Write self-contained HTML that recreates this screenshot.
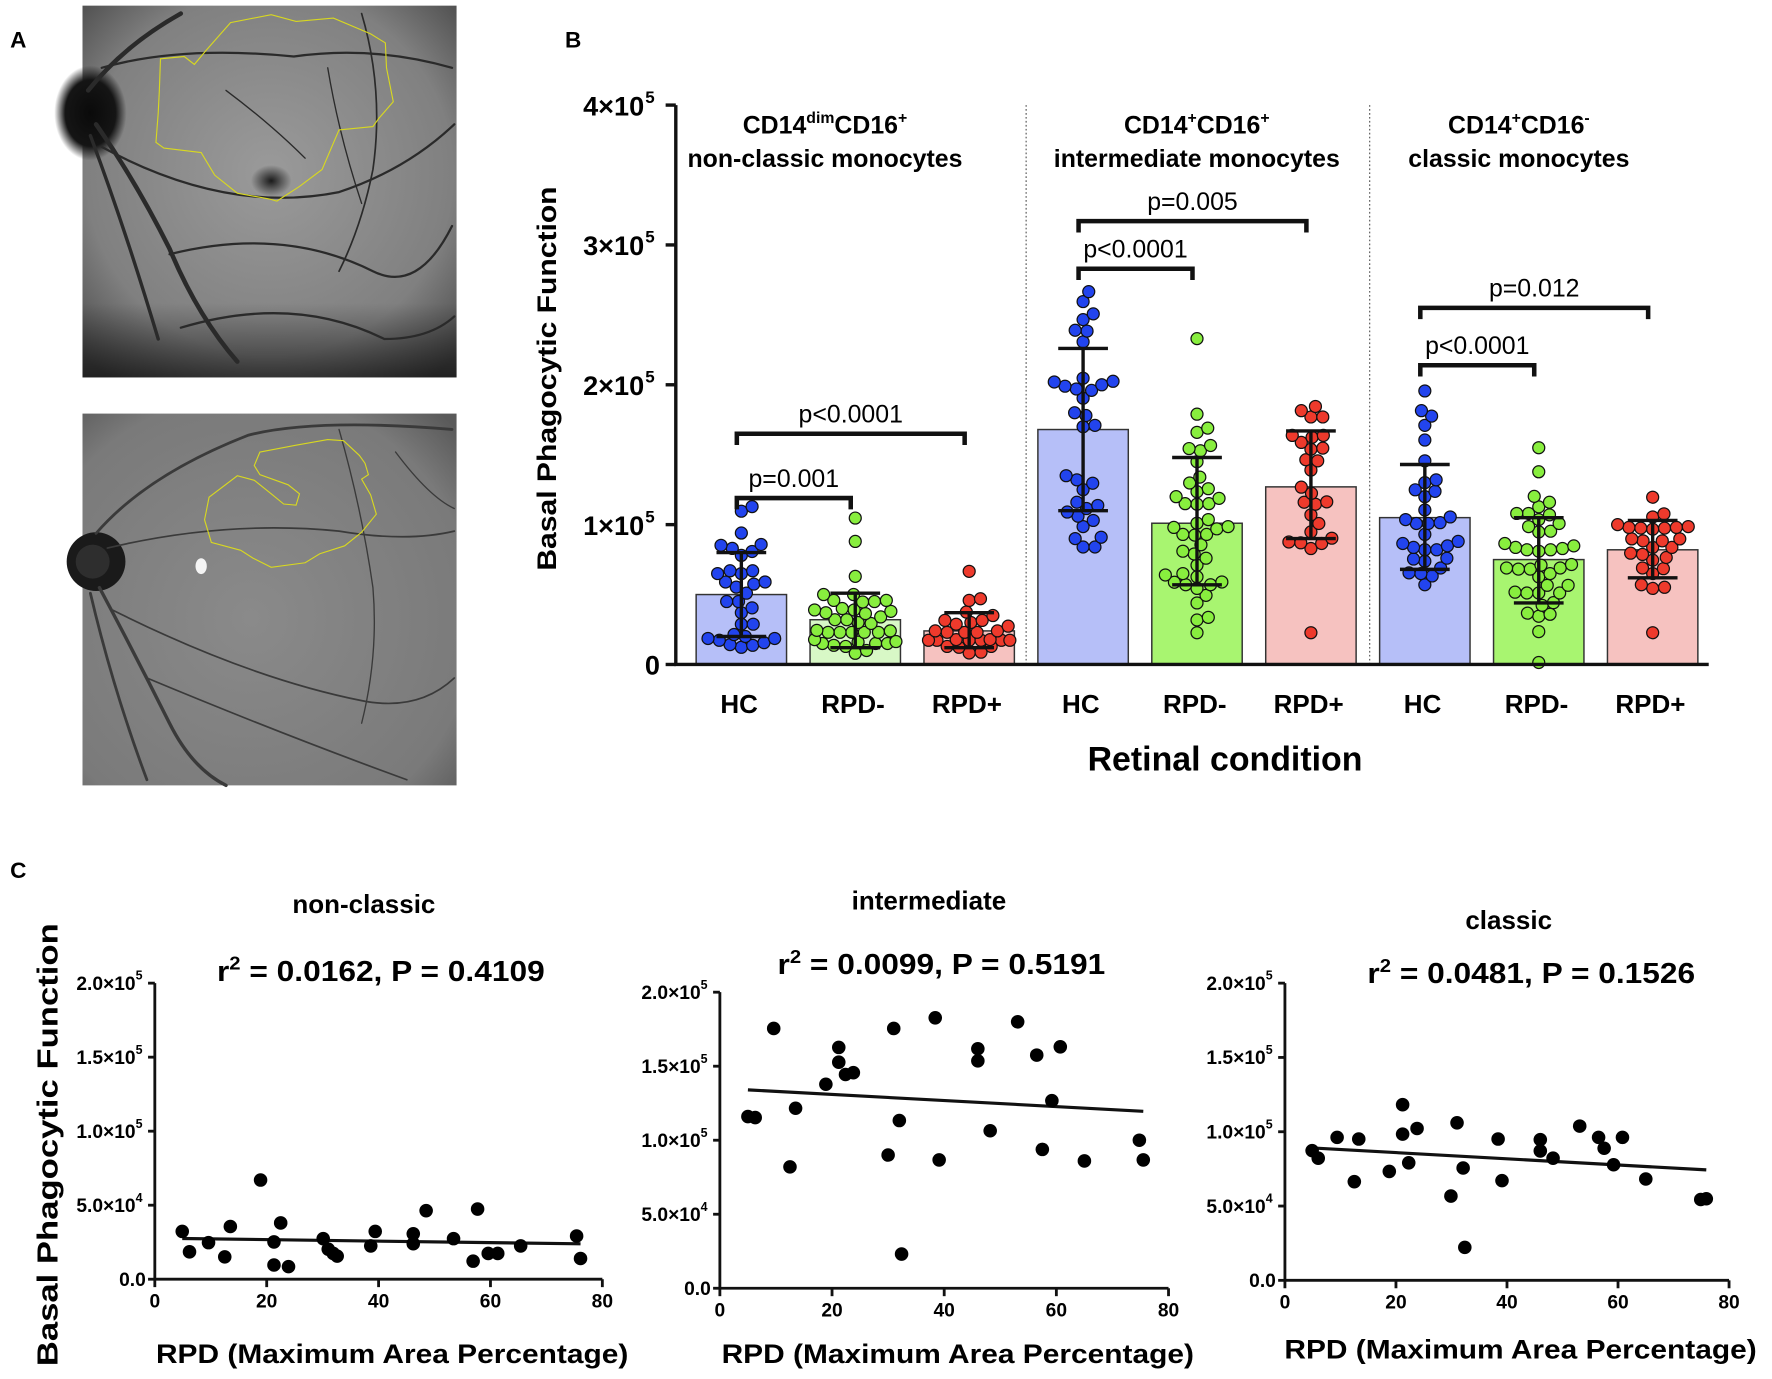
<!DOCTYPE html>
<html><head><meta charset="utf-8">
<style>
html,body{margin:0;padding:0;background:#fff;}
svg{display:block;}
text{font-family:"Liberation Sans",sans-serif;}
</style></head>
<body>
<svg id="fig" width="1772" height="1379" viewBox="0 0 1568 1220.3" preserveAspectRatio="none" xmlns="http://www.w3.org/2000/svg">
<defs>
<radialGradient id="fg1" cx="0.5" cy="0.45" r="0.7"><stop offset="0" stop-color="#9a9a9a"/><stop offset="0.7" stop-color="#808080"/><stop offset="1" stop-color="#4a4a4a"/></radialGradient>
<linearGradient id="fgb" x1="0" y1="0" x2="0" y2="1"><stop offset="0.8" stop-color="#000" stop-opacity="0"/><stop offset="1" stop-color="#000" stop-opacity="0.55"/></linearGradient>
<radialGradient id="fg2" cx="0.45" cy="0.55" r="0.75"><stop offset="0" stop-color="#8a8a8a"/><stop offset="0.8" stop-color="#7a7a7a"/><stop offset="1" stop-color="#5a5a5a"/></radialGradient>
<radialGradient id="disc" cx="0.5" cy="0.5" r="0.5"><stop offset="0" stop-color="#0a0a0a"/><stop offset="0.7" stop-color="#151515"/><stop offset="1" stop-color="#151515" stop-opacity="0"/></radialGradient>
<radialGradient id="fovea" cx="0.5" cy="0.5" r="0.5"><stop offset="0" stop-color="#1a1a1a"/><stop offset="1" stop-color="#1a1a1a" stop-opacity="0"/></radialGradient>
</defs>

<text x="9" y="42" font-size="20" font-weight="bold">A</text>
<text x="500" y="42" font-size="20" font-weight="bold">B</text>
<text x="9" y="777" font-size="20" font-weight="bold">C</text>

<g>
<rect x="73" y="5" width="331" height="329" fill="url(#fg1)"/>
<rect x="73" y="5" width="331" height="329" fill="url(#fgb)"/>
<ellipse cx="80" cy="100" rx="32" ry="42" fill="url(#disc)"/>
<ellipse cx="240" cy="160" rx="18" ry="14" fill="url(#fovea)"/>
<g fill="none" stroke="#2a2a2a" stroke-linecap="round">
<path d="M78,80 Q110,40 160,12" stroke-width="4"/>
<path d="M85,110 Q120,160 150,220 Q175,280 210,320" stroke-width="4"/>
<path d="M80,120 Q110,200 140,300" stroke-width="3"/>
<path d="M90,60 Q160,40 260,50 Q330,40 400,60" stroke-width="2"/>
<path d="M90,130 Q200,190 300,170 Q360,150 402,110" stroke-width="2"/>
<path d="M150,225 Q250,200 330,240 Q370,260 400,200" stroke-width="2"/>
<path d="M160,290 Q260,260 340,300 Q380,300 402,280" stroke-width="2"/>
<path d="M320,12 Q340,80 330,150 Q320,200 300,240" stroke-width="1.5"/>
<path d="M200,80 Q240,110 270,140" stroke-width="1.2"/>
<path d="M290,60 Q300,120 320,180" stroke-width="1.2"/>
</g>
<polygon points="142,52 163,50 172,57 182,45 204,20 240,13 262,19 295,16 328,30 341,38 342,60 348,90 335,105 330,112 300,115 285,150 265,165 245,178 238,176 210,171 190,155 178,135 145,131 138,126 140,100 141,80" fill="none" stroke="#d8d820" stroke-width="1"/>
</g>

<g>
<rect x="73" y="366" width="331" height="329" fill="url(#fg2)"/>
<circle cx="85" cy="497" r="26" fill="#1a1a1a"/>
<circle cx="82" cy="497" r="15" fill="#2e2e2e"/>
<ellipse cx="178" cy="501" rx="5" ry="7" fill="#f4f4f4"/>
<g fill="none" stroke="#3a3a3a" stroke-linecap="round">
<path d="M85,472 Q130,420 220,385 Q280,370 400,380" stroke-width="2.5"/>
<path d="M88,520 Q120,580 150,640 Q170,680 200,695" stroke-width="3"/>
<path d="M80,525 Q100,610 130,690" stroke-width="2.5"/>
<path d="M95,485 Q200,460 300,470 Q360,480 402,470" stroke-width="1.5"/>
<path d="M100,540 Q220,600 320,620 Q370,630 402,600" stroke-width="1.5"/>
<path d="M130,600 Q250,650 360,690" stroke-width="1.5"/>
<path d="M300,380 Q320,450 330,520 Q335,580 320,640" stroke-width="1.2"/>
<path d="M350,400 Q380,440 402,450" stroke-width="1.2"/>
</g>
<polygon points="230,400 262,394 290,389 304,390 318,403 323,410 326,420 320,424 328,438 333,455 320,471 305,483 283,490 270,498 240,502 224,494 213,487 187,480 181,460 185,440 210,421 225,425 240,437 251,446 262,447 265,437 255,429 230,420 225,412" fill="none" stroke="#d8d820" stroke-width="1"/>
</g>

<g id="panelB"></g>
<g id="panelC"></g>
</svg>

<script>
// ===== Panel B data =====
const bCategories = ['HC','RPD-','RPD+','HC','RPD-','RPD+','HC','RPD-','RPD+'];
const bMeans = [50, 32, 24, 168, 101, 127, 105, 75, 82];
const bSdLow = [20, 12, 12, 110, 57, 90, 68, 44, 62];
const bSdHigh = [80, 51, 37, 226, 148, 167, 143, 105, 103];
const bYTicks = [0, 100, 200, 300, 400];
const bYTickLabels = ['0', '1×10', '2×10', '3×10', '4×10'];
const g1 = [112.9,109.6,94,85.2,80.8,83,85.8,78,67,65,65,67,57.5,55.3,59,59,45,51,45,37,40.5,28.8,28.8,21.4,18.6,18.6,20,17.3,14.2,12.3,13.7,15.6];
const g2 = [104.7,88,63,50,45.8,44.7,45,45.8,50,39,36.4,38,40,37,39,32,29.3,32,30,34,23,23,23,23,24,24.4,23,16,15,13.7,12.9,15,15,16.4,17.8,8,10];
const g3 = [66.6,47,45.8,37.5,35,31.5,30,31.5,27.4,24,23,23,23,24,28.8,17.3,17.3,17.3,17.3,17.3,17.8,17.3,17.8,12.3,12.9,12.9,8.2,8.8];
const g4 = [266.6,259.5,246.6,250.7,238.4,239,230.7,204.7,202,199,196,197,200,202.5,190.4,180,178,170,171,135,132,129.6,125,116,111.5,109,106,113.7,103,98.6,91,90,84,84];
const g5 = [233,179,169,166,156.6,152.8,154.4,145,134,125.7,129.8,123.5,115,115,114.6,118.8,103.6,98,98.6,93,92.5,93,85.6,81,79,76,71,65,62.7,57,57,58.8,54.4,49.4,44,31.8,33.7,22.7,120,101,97,64,59];
const g6 = [181.5,177,177,184.5,163.8,163.8,162.4,158.8,153.9,154.7,145.6,146.4,139,126.8,122.4,116.3,114.6,116,107,100.8,94.8,87.6,86.5,82.9,87,90.3,22.7];
const g7 = [195.6,181.5,177.6,171,160.5,145.6,130,132,123.8,124.9,120,110.5,105.5,103.6,101.4,100.8,93,100.8,88,83.7,82,86.5,82,84.8,76,73.8,75.4,69,65,57,63.3,65.5];
const g8 = [155,137.8,120.2,112.7,116,108,103.6,107,108,100.8,95.3,94.8,98.6,83.7,82,84.8,81,82,82.9,86.5,71,69,68.2,65,68.2,69,71.5,62.7,56.6,51.7,51.1,51.1,51.1,56.6,44.2,42.3,36.7,34.5,35.9,23.5,1.4];
const g9 = [119.6,105.5,107.7,98,97.5,97.5,98.6,96.7,98,100,88.4,83.7,89.8,89.8,83.7,88.4,76.5,79.6,78.7,74.6,69,65,68.5,55.2,54.4,57,22.7];
const bGroupValues = [g1,g2,g3,g4,g5,g6,g7,g8,g9];
const bPLabels = ['p=0.001','p<0.0001','p<0.0001','p=0.005','p<0.0001','p=0.012'];
const bPFrom = [0,0,3,3,6,6];
const bPTo = [1,2,4,5,7,8];
const bPLevel = [119,165,283,317,214,255];

// ===== Panel C data =====
const cX1 = [4.9,6.2,9.6,12.5,13.5,18.9,21.3,21.3,22.5,23.9,30.1,31,31.9,32.6,38.6,39.4,46.2,46.2,48.5,53.4,56.9,57.7,59.6,61.3,65.4,75.4,76.1];
const cY1 = [32.3,18.5,24.7,15.1,35.6,67,25.2,9.6,38,8.5,27.4,20.3,17.4,15.6,22.5,32.3,30.7,24,46.3,27.4,12.2,47.4,17.4,17.4,22.5,29.2,14];
const cX2 = [5.0,6.3,9.6,12.5,13.5,18.9,21.2,21.2,22.4,23.8,30,31,32,32.4,38.4,39.1,46,46,48.2,53.1,56.5,57.5,59.2,60.7,65,74.8,75.5];
const cY2 = [116,115.3,175.5,82,121.6,137.8,162.7,152.7,144.4,145.6,90,175.5,113.3,23.1,182.7,86.7,161.8,153.6,106.4,180,157.5,93.8,126.7,163.1,86,100,86.7];
const cX3 = [4.9,6,9.4,12.5,13.3,18.8,21.2,21.2,22.3,23.8,29.9,31,32.1,32.4,38.4,39.1,46,46,48.3,53.1,56.5,57.5,59.2,60.8,65,74.9,75.9];
const cY3 = [87.3,82.2,96.2,66.4,95.1,73.3,118.2,98.4,79.1,102.2,56.7,106,75.6,22.2,95.1,67.1,94.7,87.1,82.2,103.8,96.2,88.9,77.8,96.2,68.2,54.4,54.9];
const cXTicks = [0,20,40,60,80];
const cYTicks = [0,50,100,150,200];
const cYTickMain = ['0.0','5.0×10','1.0×10','1.5×10','2.0×10'];
const cYTickExp = ['','4','5','5','5'];
const cTitles = ['non-classic','intermediate','classic'];
const cStats = ['0.0162, P = 0.4109','0.0099, P = 0.5191','0.0481, P = 0.1526'];

const NS = 'http://www.w3.org/2000/svg';
function mk(parent, tag, attrs, text) {
  const e = document.createElementNS(NS, tag);
  for (const k in attrs) e.setAttribute(k, attrs[k]);
  if (text !== undefined) e.textContent = text;
  parent.appendChild(e);
  return e;
}

(function(){
  const P = document.getElementById('panelB');
  const axX = 598, y0 = 588, pxPerK = 1.2375;
  const yB = v => y0 - v * pxPerK;
  const xB = i => 656 + i * 100.8;
  const barW = 80;
  const dotCols = ['#2244ee','#88ee3e','#ee3a2c'];
  const barCols = ['#b6bff8','#d8f8c6','#f6c2c0','#b6bff8','#a8f570','#f6c2c0','#b6bff8','#a8f570','#f6c2c0'];

  [908, 1212].forEach(dx => {
    const l = mk(P, 'line', {x1:dx, y1:93, x2:dx, y2:588, stroke:'#555', 'stroke-width':1, 'stroke-dasharray':'1.5 2'});
    
    
  });

  bMeans.forEach((m, i) => {
    const r = mk(P, 'rect', {x:xB(i)-barW/2, y:yB(m), width:barW, height:y0-yB(m), fill:barCols[i], stroke:'#333', 'stroke-width':1.3});
    
    
  });

  const rad = 5.3, maxOff = 36;
  bGroupValues.forEach((vals, i) => {
    const cx = xB(i), col = dotCols[i % 3];
    const order = vals.map((v, j) => j).sort((a, b) => vals[a] - vals[b]);
    const placed = [];
    const g = mk(P, 'g', {});
    
    
    const minD = 2*rad - 0.5;
    order.forEach(j => {
      const py = yB(vals[j]);
      let best = 0, bestScore = Infinity;
      for (let s = 0; s <= maxOff; s += 0.5) {
        let done = false;
        for (const sg of (s === 0 ? [0] : [s, -s])) {
          let overlap = 0;
          placed.forEach(p => {
            const d = Math.hypot(p[0]-sg, p[1]-py);
            if (d < minD) overlap += (minD - d);
          });
          if (overlap === 0) { best = sg; bestScore = 0; done = true; break; }
          const score = overlap + Math.abs(sg)*0.02;
          if (score < bestScore) { bestScore = score; best = sg; }
        }
        if (done) break;
      }
      placed.push([best, py]);
      const c = mk(g, 'circle', {cx:cx+best, cy:py, r:rad, fill:col, stroke:'#111', 'stroke-width':1.1});
      
      
    });
  });

  bMeans.forEach((m, i) => {
    const g = mk(P, 'g', {stroke:'#111', 'stroke-width':3});
    
    
    mk(g, 'line', {x1:xB(i), y1:yB(bSdLow[i]), x2:xB(i), y2:yB(bSdHigh[i])});
    mk(g, 'line', {x1:xB(i)-22, y1:yB(bSdLow[i]), x2:xB(i)+22, y2:yB(bSdLow[i])});
    mk(g, 'line', {x1:xB(i)-22, y1:yB(bSdHigh[i]), x2:xB(i)+22, y2:yB(bSdHigh[i])});
  });

  const ax = mk(P, 'path', {d:`M${axX},${yB(400)} V${y0} H1512`, fill:'none', stroke:'#111', 'stroke-width':3});
  
  
  bYTicks.forEach((t, k) => {
    mk(P, 'line', {x1:axX-9, y1:yB(t), x2:axX, y2:yB(t), stroke:'#111', 'stroke-width':3});
    const tx = mk(P, 'text', {x: k===0 ? axX-14 : axX-28, y:yB(t)+9, 'font-size':24, 'font-weight':'bold', 'text-anchor':'end'}, bYTickLabels[k]);
    
    
    if (k > 0) {
      const ex = mk(P, 'text', {x:axX-27, y:yB(t)-2, 'font-size':15, 'font-weight':'bold'}, '5');
      
      
    }
  });
  bCategories.forEach((c, i) => {
    const tx = mk(P, 'text', {x:xB(i)-2, y:631, 'font-size':23, 'font-weight':'bold', 'text-anchor':'middle'}, c);
    
    
  });
  const xt = mk(P, 'text', {x:1084, y:682, 'font-size':30, 'font-weight':'bold', 'text-anchor':'middle'}, 'Retinal condition');
  
  
  const yt = mk(P, 'text', {x:0, y:0, 'font-size':24, 'font-weight':'bold', 'text-anchor':'middle', textLength:340, lengthAdjust:'spacingAndGlyphs', transform:'translate(492,335) rotate(-90)'}, 'Basal Phagocytic Function');
  
  

  const titles = [
    [730, ['CD14','dim','CD16','+'], 'non-classic monocytes'],
    [1059, ['CD14','+','CD16','+'], 'intermediate monocytes'],
    [1344, ['CD14','+','CD16','-'], 'classic monocytes']
  ];
  titles.forEach(t => {
    const a = mk(P, 'text', {x:t[0], y:118, 'font-size':22, 'font-weight':'bold', 'text-anchor':'middle'});
    
    
    mk(a, 'tspan', {}, t[1][0]);
    mk(a, 'tspan', {'font-size':14, dy:-9}, t[1][1]);
    mk(a, 'tspan', {dy:9}, t[1][2]);
    mk(a, 'tspan', {'font-size':14, dy:-9}, t[1][3]);
    const b = mk(P, 'text', {x:t[0], y:148, 'font-size':22, 'font-weight':'bold', 'text-anchor':'middle'}, t[2]);
    
    
  });

  bPLabels.forEach((lab, k) => {
    const x1 = xB(bPFrom[k]) - 4, x2 = xB(bPTo[k]) - 4, yy = yB(bPLevel[k]);
    const g = mk(P, 'g', {});
    
    
    mk(g, 'path', {d:`M${x1},${yy+10} V${yy} H${x2} V${yy+10}`, fill:'none', stroke:'#111', 'stroke-width':4});
    mk(g, 'text', {x:(x1+x2)/2, y:yy-10, 'font-size':22, 'text-anchor':'middle'}, lab);
  });
})();

(function(){
  const P = document.getElementById('panelC');
  const plots = [
    {x0:137, x80:533, y0:1132, y200:870, xs:cX1, ys:cY1, tx:322, ty:808, sx:337, sy:868, xtY:1206},
    {x0:637, x80:1034, y0:1140, y200:878, xs:cX2, ys:cY2, tx:822, ty:805, sx:833, sy:862, xtY:1206},
    {x0:1137, x80:1530, y0:1133, y200:870, xs:cX3, ys:cY3, tx:1335, ty:822, sx:1355, sy:870, xtY:1202}
  ];
  plots.forEach((p, k) => {
    const g = mk(P, 'g', {});
    
    
    const xS = v => p.x0 + v * (p.x80 - p.x0) / 80;
    const yS = v => p.y0 - v * (p.y0 - p.y200) / 200;
    const ax = mk(g, 'path', {d:`M${p.x0},${p.y200} V${p.y0} H${p.x80}`, fill:'none', stroke:'#111', 'stroke-width':2.5});
    
    
    cXTicks.forEach(t => {
      mk(g, 'line', {x1:xS(t), y1:p.y0, x2:xS(t), y2:p.y0+7, stroke:'#111', 'stroke-width':2.5});
      const tl = mk(g, 'text', {x:xS(t), y:p.y0+25, 'font-size':17, 'font-weight':'bold', 'text-anchor':'middle'}, String(t));
      
      
    });
    cYTicks.forEach((t, i) => {
      mk(g, 'line', {x1:p.x0-6, y1:yS(t), x2:p.x0, y2:yS(t), stroke:'#111', 'stroke-width':2.5});
      const tl = mk(g, 'text', {x: i===0 ? p.x0-8 : p.x0-17, y:yS(t)+6, 'font-size':17, 'font-weight':'bold', 'text-anchor':'end'}, cYTickMain[i]);
      
      
      if (cYTickExp[i]) {
        const ex = mk(g, 'text', {x:p.x0-17, y:yS(t)-3, 'font-size':11, 'font-weight':'bold'}, cYTickExp[i]);
        
        
      }
    });
    const n = p.xs.length;
    const mx = p.xs.reduce((a,b)=>a+b,0)/n, my = p.ys.reduce((a,b)=>a+b,0)/n;
    let sxy = 0, sxx = 0;
    for (let i = 0; i < n; i++) { sxy += (p.xs[i]-mx)*(p.ys[i]-my); sxx += (p.xs[i]-mx)*(p.xs[i]-mx); }
    const slope = sxy/sxx, icpt = my - slope*mx;
    const xa = Math.min(...p.xs), xb = Math.max(...p.xs);
    const rl = mk(g, 'line', {x1:xS(xa), y1:yS(icpt+slope*xa), x2:xS(xb), y2:yS(icpt+slope*xb), stroke:'#111', 'stroke-width':2.8});
    
    
    p.xs.forEach((xv, i) => {
      const c = mk(g, 'circle', {cx:xS(xv), cy:yS(p.ys[i]), r:6, fill:'#000'});
      
      
    });
    const tt = mk(g, 'text', {x:p.tx, y:p.ty, 'font-size':23, 'font-weight':'bold', 'text-anchor':'middle'}, cTitles[k]);
    
    
    const st = mk(g, 'text', {x:p.sx, y:p.sy, 'font-size':25, 'font-weight':'bold', 'text-anchor':'middle', textLength:290, lengthAdjust:'spacingAndGlyphs'});
    
    
    mk(st, 'tspan', {}, 'r');
    mk(st, 'tspan', {'font-size':16, dy:-10}, '2');
    mk(st, 'tspan', {dy:10}, ' = ' + cStats[k]);
    const xt = mk(g, 'text', {x:(p.x0+p.x80)/2+12, y:p.xtY, 'font-size':24, 'font-weight':'bold', 'text-anchor':'middle', textLength:418, lengthAdjust:'spacingAndGlyphs'}, 'RPD (Maximum Area Percentage)');
    
    
  });
  const yt = mk(P, 'text', {x:0, y:0, 'font-size':25, 'font-weight':'bold', 'text-anchor':'middle', textLength:392, lengthAdjust:'spacingAndGlyphs', transform:'translate(51,1013) rotate(-90)'}, 'Basal Phagocytic Function');
  
  
})();
</script>
</body></html>
